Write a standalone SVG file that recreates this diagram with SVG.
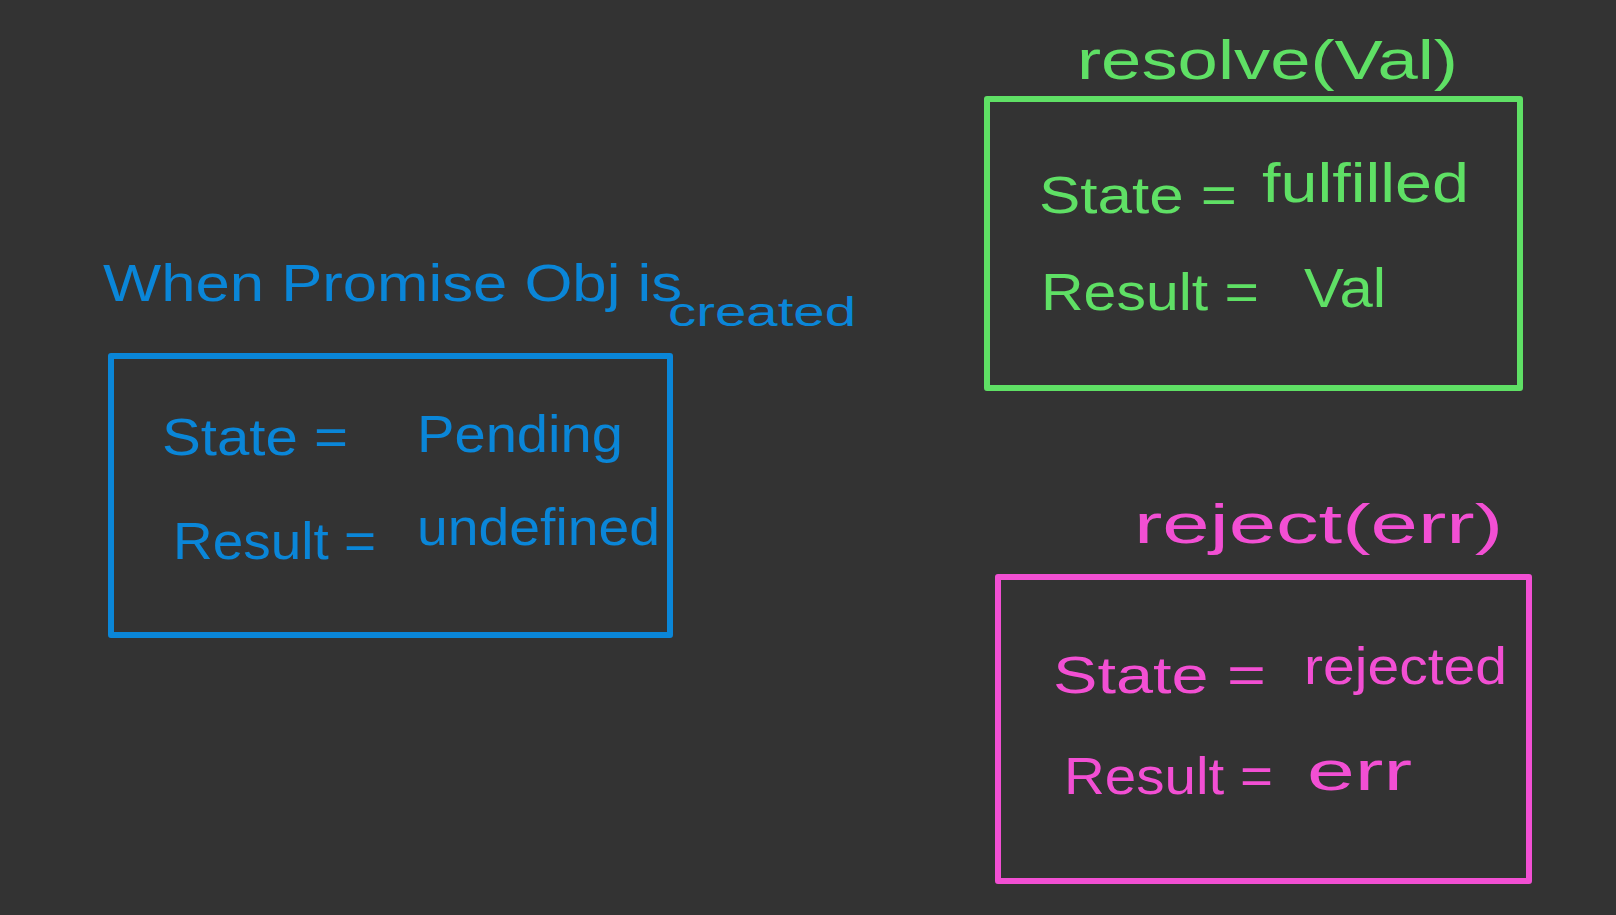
<svg xmlns="http://www.w3.org/2000/svg" width="1616" height="915" viewBox="0 0 1616 915">
<style>
.bg{fill:#333333}
.box{fill:none;stroke-width:6;stroke-linejoin:round}
.t{font-family:"Liberation Sans",Arial,sans-serif;font-size:52px}
.s{font-size:40px}
.h{font-size:56px}
.blue{fill:#0a86d8}
.green{fill:#5fe065}
.pink{fill:#f24fd3}
</style>
<rect class="bg" x="0" y="0" width="1616" height="915"/>
<g id="pending">
<text class="t blue" x="103" y="301" textLength="579" lengthAdjust="spacingAndGlyphs">When Promise Obj is</text>
<text class="t s blue" x="668" y="326" textLength="188" lengthAdjust="spacingAndGlyphs">created</text>
<rect class="box" x="111" y="356" width="559" height="279" stroke="#0a86d8"/>
<text class="t blue" x="162" y="455" textLength="186" lengthAdjust="spacingAndGlyphs">State =</text>
<text class="t blue" x="417" y="452" textLength="206" lengthAdjust="spacingAndGlyphs">Pending</text>
<text class="t blue" x="173" y="559" textLength="203" lengthAdjust="spacingAndGlyphs">Result =</text>
<text class="t blue" x="417" y="545" textLength="243" lengthAdjust="spacingAndGlyphs">undefined</text>
</g>
<g id="fulfilled">
<text class="t h green" x="1077" y="79" textLength="381" lengthAdjust="spacingAndGlyphs">resolve(Val)</text>
<rect class="box" x="987" y="99" width="533" height="289" stroke="#5fe065"/>
<text class="t green" x="1039" y="213" textLength="198" lengthAdjust="spacingAndGlyphs">State =</text>
<text class="t h green" x="1262" y="202" textLength="207" lengthAdjust="spacingAndGlyphs">fulfilled</text>
<text class="t green" x="1041" y="310" textLength="218" lengthAdjust="spacingAndGlyphs">Result =</text>
<text class="t h green" x="1304" y="307" textLength="82" lengthAdjust="spacingAndGlyphs">Val</text>
</g>
<g id="rejected">
<text class="t h pink" x="1134" y="543" textLength="369" lengthAdjust="spacingAndGlyphs">reject(err)</text>
<rect class="box" x="998" y="577" width="531" height="304" stroke="#f24fd3"/>
<text class="t pink" x="1053" y="693" textLength="213" lengthAdjust="spacingAndGlyphs">State =</text>
<text class="t pink" x="1304" y="684" textLength="203" lengthAdjust="spacingAndGlyphs">rejected</text>
<text class="t pink" x="1064" y="794" textLength="209" lengthAdjust="spacingAndGlyphs">Result =</text>
<text class="t h pink" x="1307" y="790" textLength="105" lengthAdjust="spacingAndGlyphs">err</text>
</g>
</svg>
